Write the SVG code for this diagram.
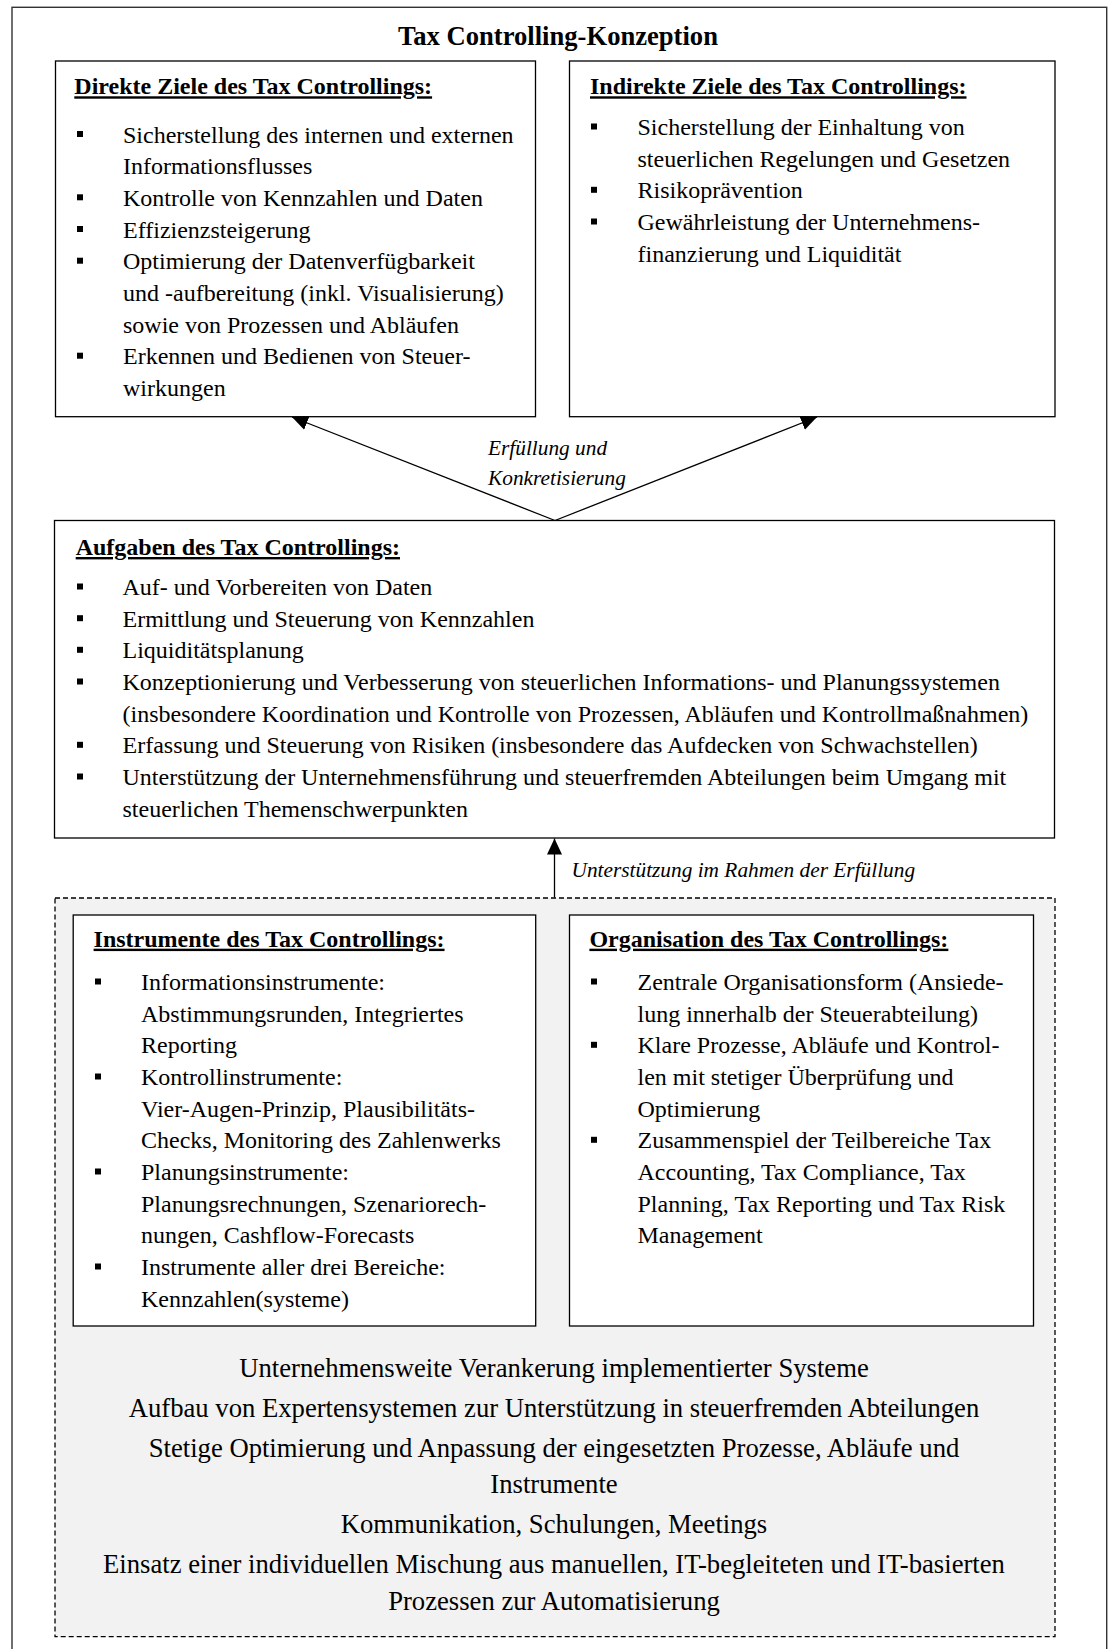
<svg xmlns="http://www.w3.org/2000/svg" width="1109" height="1649" viewBox="0 0 1109 1649">
<style>
text{font-family:"Liberation Serif","Times New Roman",serif;fill:#000}
.title{font-size:26.6px;font-weight:bold;text-anchor:middle}
.hdr{font-size:24px;font-weight:bold;text-decoration:underline}
.t{font-size:24px}
.lbl{font-size:21.33px;font-style:italic}
.c{font-size:26.67px;text-anchor:middle}
.box{fill:#fff;stroke:#000;stroke-width:1.3}
.b{fill:#000}
.conn{fill:none;stroke:#000;stroke-width:1.3;marker-end:url(#ah)}
</style>
<defs>
<marker id="ah" markerUnits="userSpaceOnUse" markerWidth="17" markerHeight="15" refX="16" refY="7.5" orient="auto">
<path d="M0,0 L16,7.5 L0,15 z" fill="#000"/>
</marker>
</defs>
<rect width="1109" height="1649" fill="#fff"/>
<g id="frame">
<rect x="12" y="7.3" width="1094.7" height="1660" fill="#fff" stroke="#333" stroke-width="1.4"/>
<text class="title" x="558" y="45">Tax Controlling-Konzeption</text>
</g>
<g id="umsetzung">
<rect x="55" y="898" width="1000" height="738.7" fill="#f2f2f2" stroke="#000" stroke-width="1.3" stroke-dasharray="5 3"/>
<text class="c" x="554" y="1377.3">Unternehmensweite Verankerung implementierter Systeme</text>
<text class="c" x="554" y="1417.3">Aufbau von Expertensystemen zur Unterstützung in steuerfremden Abteilungen</text>
<text class="c" x="554" y="1457.3">Stetige Optimierung und Anpassung der eingesetzten Prozesse, Abläufe und</text>
<text class="c" x="554" y="1492.7">Instrumente</text>
<text class="c" x="554" y="1533.3">Kommunikation, Schulungen, Meetings</text>
<text class="c" x="554" y="1573.3">Einsatz einer individuellen Mischung aus manuellen, IT-begleiteten und IT-basierten</text>
<text class="c" x="554" y="1610">Prozessen zur Automatisierung</text>
</g>
<g id="direkte-ziele">
<rect class="box" x="55.5" y="61" width="480" height="355.7"/>
<text class="hdr" x="74.3" y="94.3">Direkte Ziele des Tax Controllings:</text>
<rect class="b" x="77" y="131" width="6" height="6"/>
<rect class="b" x="77" y="194.3" width="6" height="6"/>
<rect class="b" x="77" y="226" width="6" height="6"/>
<rect class="b" x="77" y="257.7" width="6" height="6"/>
<rect class="b" x="77" y="352.7" width="6" height="6"/>
<text class="t">
<tspan x="123" y="142.5">Sicherstellung des internen und externen</tspan>
<tspan x="123" y="174.2">Informationsflusses</tspan>
<tspan x="123" y="205.8">Kontrolle von Kennzahlen und Daten</tspan>
<tspan x="123" y="237.5">Effizienzsteigerung</tspan>
<tspan x="123" y="269.2">Optimierung der Datenverfügbarkeit</tspan>
<tspan x="123" y="300.8">und -aufbereitung (inkl. Visualisierung)</tspan>
<tspan x="123" y="332.5">sowie von Prozessen und Abläufen</tspan>
<tspan x="123" y="364.2">Erkennen und Bedienen von Steuer-</tspan>
<tspan x="123" y="395.8">wirkungen</tspan>
</text>
</g>
<g id="indirekte-ziele">
<rect class="box" x="569.5" y="61" width="485.5" height="355.7"/>
<text class="hdr" x="590" y="94.3">Indirekte Ziele des Tax Controllings:</text>
<rect class="b" x="591" y="123.5" width="6" height="6"/>
<rect class="b" x="591" y="186.8" width="6" height="6"/>
<rect class="b" x="591" y="218.5" width="6" height="6"/>
<text class="t">
<tspan x="637.5" y="135">Sicherstellung der Einhaltung von</tspan>
<tspan x="637.5" y="166.7">steuerlichen Regelungen und Gesetzen</tspan>
<tspan x="637.5" y="198.3">Risikoprävention</tspan>
<tspan x="637.5" y="230">Gewährleistung der Unternehmens-</tspan>
<tspan x="637.5" y="261.7">finanzierung und Liquidität</tspan>
</text>
</g>
<g id="aufgaben">
<rect class="box" x="54.5" y="520.5" width="1000" height="317.5"/>
<text class="hdr" x="75.7" y="555">Aufgaben des Tax Controllings:</text>
<rect class="b" x="77" y="583.5" width="6" height="6"/>
<rect class="b" x="77" y="615.2" width="6" height="6"/>
<rect class="b" x="77" y="646.8" width="6" height="6"/>
<rect class="b" x="77" y="678.5" width="6" height="6"/>
<rect class="b" x="77" y="741.8" width="6" height="6"/>
<rect class="b" x="77" y="773.5" width="6" height="6"/>
<text class="t">
<tspan x="122.5" y="595">Auf- und Vorbereiten von Daten</tspan>
<tspan x="122.5" y="626.7">Ermittlung und Steuerung von Kennzahlen</tspan>
<tspan x="122.5" y="658.3">Liquiditätsplanung</tspan>
<tspan x="122.5" y="690">Konzeptionierung und Verbesserung von steuerlichen Informations- und Planungssystemen</tspan>
<tspan x="122.5" y="721.7">(insbesondere Koordination und Kontrolle von Prozessen, Abläufen und Kontrollmaßnahmen)</tspan>
<tspan x="122.5" y="753.3">Erfassung und Steuerung von Risiken (insbesondere das Aufdecken von Schwachstellen)</tspan>
<tspan x="122.5" y="785">Unterstützung der Unternehmensführung und steuerfremden Abteilungen beim Umgang mit</tspan>
<tspan x="122.5" y="816.7">steuerlichen Themenschwerpunkten</tspan>
</text>
</g>
<g id="instrumente">
<rect class="box" x="73.2" y="915" width="462.5" height="411"/>
<text class="hdr" x="93.6" y="946.7">Instrumente des Tax Controllings:</text>
<rect class="b" x="95" y="978.5" width="6" height="6"/>
<rect class="b" x="95" y="1073.5" width="6" height="6"/>
<rect class="b" x="95" y="1168.5" width="6" height="6"/>
<rect class="b" x="95" y="1263.5" width="6" height="6"/>
<text class="t">
<tspan x="141" y="990">Informationsinstrumente:</tspan>
<tspan x="141" y="1021.7">Abstimmungsrunden, Integriertes</tspan>
<tspan x="141" y="1053.3">Reporting</tspan>
<tspan x="141" y="1085">Kontrollinstrumente:</tspan>
<tspan x="141" y="1116.7">Vier-Augen-Prinzip, Plausibilitäts-</tspan>
<tspan x="141" y="1148.3">Checks, Monitoring des Zahlenwerks</tspan>
<tspan x="141" y="1180">Planungsinstrumente:</tspan>
<tspan x="141" y="1211.7">Planungsrechnungen, Szenariorech-</tspan>
<tspan x="141" y="1243.3">nungen, Cashflow-Forecasts</tspan>
<tspan x="141" y="1275">Instrumente aller drei Bereiche:</tspan>
<tspan x="141" y="1306.7">Kennzahlen(systeme)</tspan>
</text>
</g>
<g id="organisation">
<rect class="box" x="569.5" y="915" width="464" height="411"/>
<text class="hdr" x="589.4" y="946.7">Organisation des Tax Controllings:</text>
<rect class="b" x="591" y="978.5" width="6" height="6"/>
<rect class="b" x="591" y="1041.8" width="6" height="6"/>
<rect class="b" x="591" y="1136.8" width="6" height="6"/>
<text class="t">
<tspan x="637.5" y="990">Zentrale Organisationsform (Ansiede-</tspan>
<tspan x="637.5" y="1021.7">lung innerhalb der Steuerabteilung)</tspan>
<tspan x="637.5" y="1053.3">Klare Prozesse, Abläufe und Kontrol-</tspan>
<tspan x="637.5" y="1085">len mit stetiger Überprüfung und</tspan>
<tspan x="637.5" y="1116.7">Optimierung</tspan>
<tspan x="637.5" y="1148.3">Zusammenspiel der Teilbereiche Tax</tspan>
<tspan x="637.5" y="1180">Accounting, Tax Compliance, Tax</tspan>
<tspan x="637.5" y="1211.7">Planning, Tax Reporting und Tax Risk</tspan>
<tspan x="637.5" y="1243.3">Management</tspan>
</text>
</g>
<g id="connectors">
<path class="conn" d="M555,520.5 L292,417"/>
<path class="conn" d="M555,520.5 L817,417"/>
<path class="conn" d="M554.5,897.5 L554.5,838.5"/>
<text class="lbl" x="488" y="455">Erfüllung und</text>
<text class="lbl" x="488" y="485">Konkretisierung</text>
<text class="lbl" x="571.5" y="877">Unterstützung im Rahmen der Erfüllung</text>
</g>
</svg>
